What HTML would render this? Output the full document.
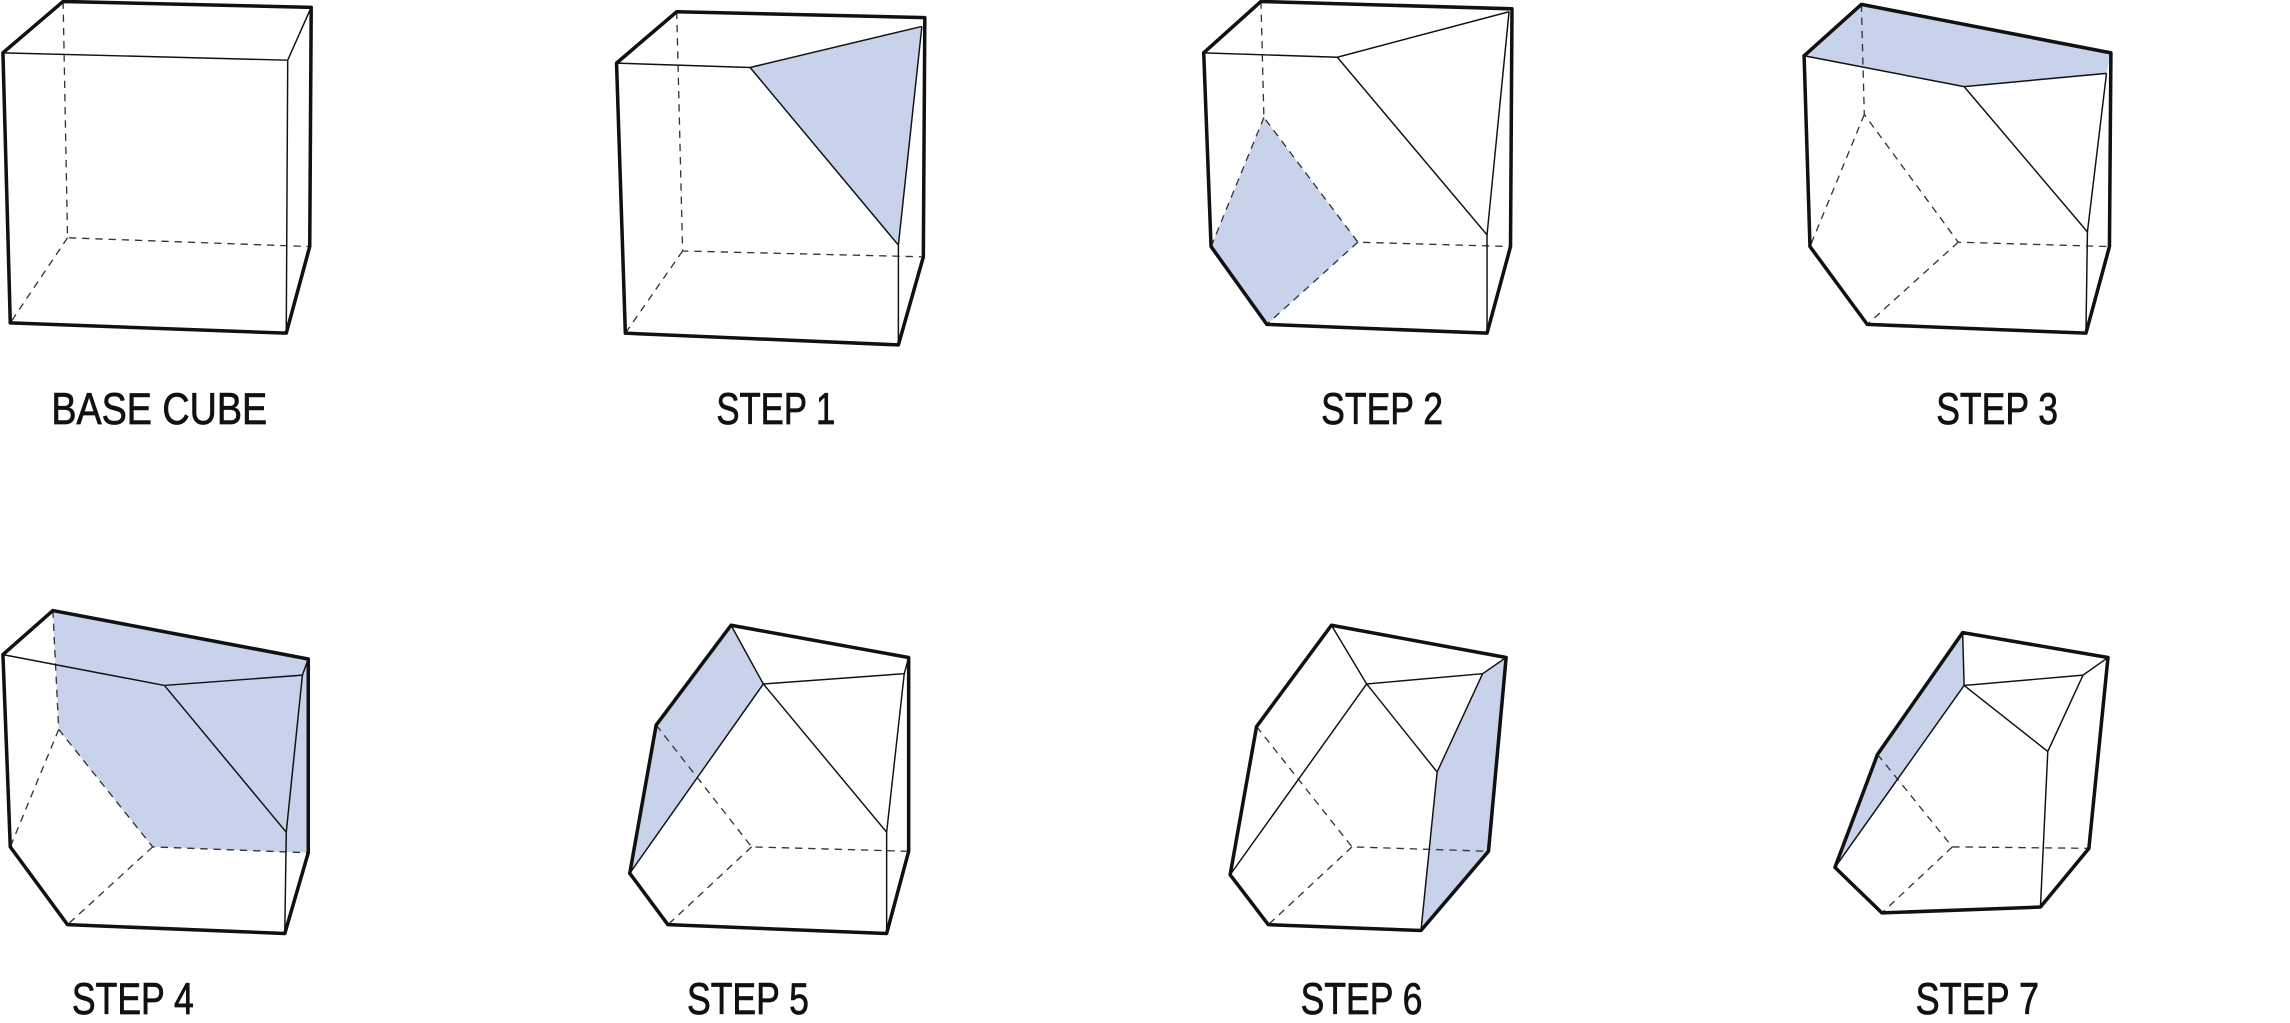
<!DOCTYPE html>
<html><head><meta charset="utf-8"><style>
html,body{margin:0;padding:0;background:#fff;}
svg{display:block;}
.k{stroke:#111;stroke-width:2.4;fill:none;stroke-linejoin:round;stroke-linecap:round;}
.t{stroke:#111;stroke-width:1;fill:none;}
.d{stroke:#333;stroke-width:0.9;fill:none;stroke-dasharray:5,4;}
.b{fill:#c8d2ea;stroke:none;}
text{font-family:"Liberation Sans",sans-serif;font-size:30px;fill:#111;stroke:#111;stroke-width:0.5;}
</style></head><body>
<svg width="2290" height="1023" viewBox="0 0 1560 697" preserveAspectRatio="none" xmlns="http://www.w3.org/2000/svg">
<g>
<path class="d" d="M43,1 L46,162 L211,168 M46,162 L7,220"/>
<path class="t" d="M2,36 L196,41 L212,5 M196,41 L195,227"/>
<path class="k" d="M2,36 L43,1 L212,5 L211,168 L195,227 L7,220 Z"/>
</g>
<g>
<polygon class="b" points="511,46 628,18 612,167"/>
<path class="d" d="M461,8 L465,171 L629,175 M465,171 L426,227"/>
<path class="t" d="M420,43 L511,46 L628,18 M511,46 L612,167 L628,18 M612,167 L612,235"/>
<path class="k" d="M420,43 L461,8 L630,12 L629,175 L612,235 L426,227 Z"/>
</g>
<g>
<polygon class="b" points="825,168 861,80 925,165 863,221"/>
<path class="d" d="M859,1 L861,80 L925,165 L1029,168 M925,165 L863,221 M861,80 L825,168"/>
<path class="t" d="M820,36 L911,39 L1028,8 M911,39 L1013,160 L1028,8 M1013,160 L1013,227"/>
<path class="k" d="M820,36 L859,1 L1030,6 L1029,168 L1013,227 L863,221 L825,168 L820,36"/>
</g>
<g>
<polygon class="b" points="1229,38 1268,3 1438,36 1435,50 1338,59"/>
<path class="d" d="M1268,3 L1270,78 L1334,165 L1437,168 M1334,165 L1272,221 M1270,78 L1233,168"/>
<path class="t" d="M1229,38 L1338,59 L1435,50 M1338,59 L1422,158 L1435,50 M1422,158 L1421,227"/>
<path class="k" d="M1229,38 L1268,3 L1438,36 L1437,168 L1421,227 L1272,221 L1233,168 L1229,38"/>
</g>
<g>
<polygon class="b" points="36,416 210,449 210,581 104,577 40,497"/>
<path class="d" d="M36,416 L40,497 L104,577 L210,581 M104,577 L46,630 M40,497 L7,577"/>
<path class="t" d="M2,446 L112,467 L206,460 L210,449 M112,467 L195,567 L206,460 M195,567 L194,636"/>
<path class="k" d="M2,446 L36,416 L210,449 L210,581 L194,636 L46,630 L7,577 L2,446"/>
</g>
<g>
<polygon class="b" points="498,426 520,466 429,595 447,494"/>
<path class="d" d="M447,494 L512,577 L619,580 M512,577 L455,630"/>
<path class="t" d="M498,426 L520,466 L616,459 L619,448 M520,466 L604,567 L616,459 M604,567 L604,636 M520,466 L429,595"/>
<path class="k" d="M447,494 L498,426 L619,448 L619,580 L604,636 L455,630 L429,595 Z"/>
</g>
<g>
<polygon class="b" points="1010,459 1026,448 1014,580 968,634 979,526"/>
<path class="d" d="M856,495 L921,577 L1014,580 M921,577 L864,630"/>
<path class="t" d="M907,426 L931,466 L1010,459 L1026,448 M931,466 L979,526 L1010,459 M979,526 L968,634 M931,466 L838,596"/>
<path class="k" d="M856,495 L907,426 L1026,448 L1014,580 L968,634 L864,630 L838,596 Z"/>
</g>
<g>
<polygon class="b" points="1337,431 1338,467 1250,591 1279,514"/>
<path class="d" d="M1279,514 L1330,577 L1423,578 M1330,577 L1282,622"/>
<path class="t" d="M1337,431 L1338,467 L1419,460 L1436,448 M1338,467 L1395,512 L1419,460 M1395,512 L1390,618 M1338,467 L1250,591"/>
<path class="k" d="M1279,514 L1337,431 L1436,448 L1423,578 L1390,618 L1282,622 L1250,591 Z"/>
</g>
<text x="35" y="289" textLength="147" lengthAdjust="spacingAndGlyphs">BASE CUBE</text>
<text x="488" y="289" textLength="81" lengthAdjust="spacingAndGlyphs">STEP 1</text>
<text x="900" y="289" textLength="83" lengthAdjust="spacingAndGlyphs">STEP 2</text>
<text x="1319" y="289" textLength="83" lengthAdjust="spacingAndGlyphs">STEP 3</text>
<text x="49" y="691" textLength="83" lengthAdjust="spacingAndGlyphs">STEP 4</text>
<text x="468" y="691" textLength="83" lengthAdjust="spacingAndGlyphs">STEP 5</text>
<text x="886" y="691" textLength="83" lengthAdjust="spacingAndGlyphs">STEP 6</text>
<text x="1305" y="691" textLength="84" lengthAdjust="spacingAndGlyphs">STEP 7</text>
</svg>
</body></html>
